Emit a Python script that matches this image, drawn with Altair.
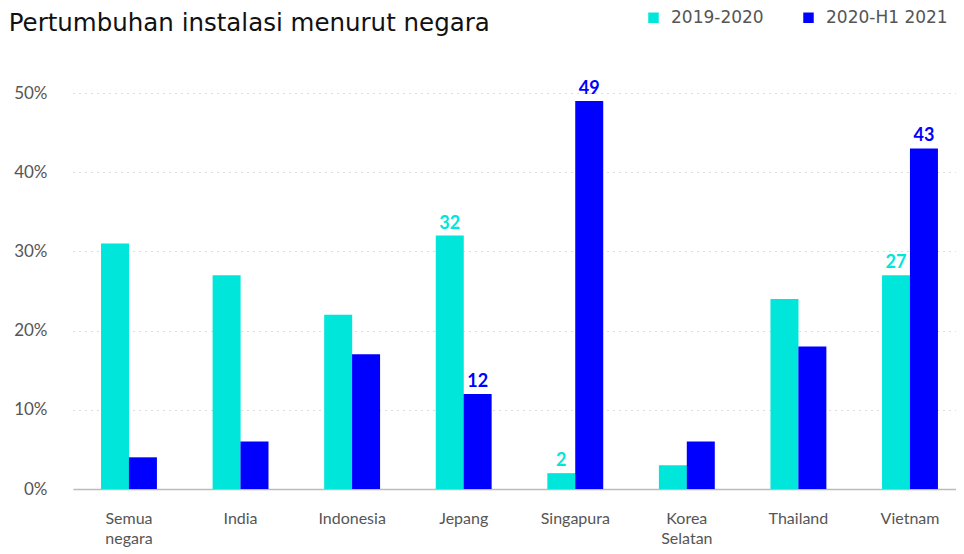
import altair as alt
import pandas as pd

countries = ["Semua negara", "India", "Indonesia", "Jepang", "Singapura", "Korea Selatan", "Thailand", "Vietnam"]
series_names = ["2019-2020", "2020-H1 2021"]
growth_2019_2020 = [31, 27, 22, 32, 2, 3, 24, 27]
growth_2020_h1 = [4, 6, 17, 12, 49, 6, 18, 43]
labels_2019_2020 = ["", "", "", "32", "2", "", "", "27"]
labels_2020_h1 = ["", "", "", "12", "49", "", "", "43"]
colors = ["#00E6DA", "#0000FF"]

rows = []
for i, c in enumerate(countries):
    rows.append({"country": c, "series": series_names[0], "value": growth_2019_2020[i], "label": labels_2019_2020[i]})
    rows.append({"country": c, "series": series_names[1], "value": growth_2020_h1[i], "label": labels_2020_h1[i]})
df = pd.DataFrame(rows)

FONT = "Lato"
TFONT = "DejaVu Sans"

x = alt.X("country:N", sort=countries, title=None,
          scale=alt.Scale(paddingInner=0.5, paddingOuter=0.207, align=0.608),
          axis=alt.Axis(labelAngle=0, labelExpr="split(datum.label, ' ')", labelFontSize=16,
                        labelColor="#555555", labelFont=FONT, labelPadding=21, ticks=False,
                        domainColor="#BBBBBB", domainWidth=1.5, labelLineHeight=20, labelBaseline="top"))
y = alt.Y("value:Q", title=None,
          scale=alt.Scale(domain=[0, 50]),
          axis=alt.Axis(values=[0, 10, 20, 30, 40, 50], labelExpr="datum.value + '%'", labelFontSize=17,
                        labelColor="#555555", labelFont=FONT, labelPadding=26, ticks=False, domain=False,
                        gridDash=[1, 5], gridColor="#BBBBBB", gridWidth=1.2))
color = alt.Color("series:N", sort=series_names,
                  scale=alt.Scale(domain=series_names, range=colors),
                  legend=alt.Legend(title=None, orient="none", direction="horizontal", legendX=572, legendY=-84,
                                    symbolType="square", symbolSize=110, symbolStrokeWidth=0,
                                    labelFontSize=17, labelColor="#555555", labelFont=TFONT,
                                    columnPadding=36, labelOffset=9))

bars = alt.Chart(df).mark_bar(size=28).encode(
    x=x, y=y, color=color, xOffset=alt.XOffset("series:N", sort=series_names)
)
text = alt.Chart(df).mark_text(dy=-12, fontSize=18, fontWeight="bold", font=FONT).encode(
    x=x, y=y, xOffset=alt.XOffset("series:N", sort=series_names),
    text="label:N",
    color=alt.Color("series:N", scale=alt.Scale(domain=series_names, range=colors), legend=None),
)

chart = alt.layer(bars, text).properties(
    width=883, height=396,
    title=alt.TitleParams("Pertumbuhan instalasi menurut negara", anchor="start", font=TFONT,
                          fontSize=24.5, fontWeight="normal", color="#111111", dx=-5, dy=37, offset=10),
    autosize=alt.AutoSizeParams(type="none"),
    padding={"left": 65, "top": 85, "right": 0, "bottom": 60},
).configure_view(stroke=None)

chart.save("out.html", embed_options={"renderer": "svg", "actions": False})
